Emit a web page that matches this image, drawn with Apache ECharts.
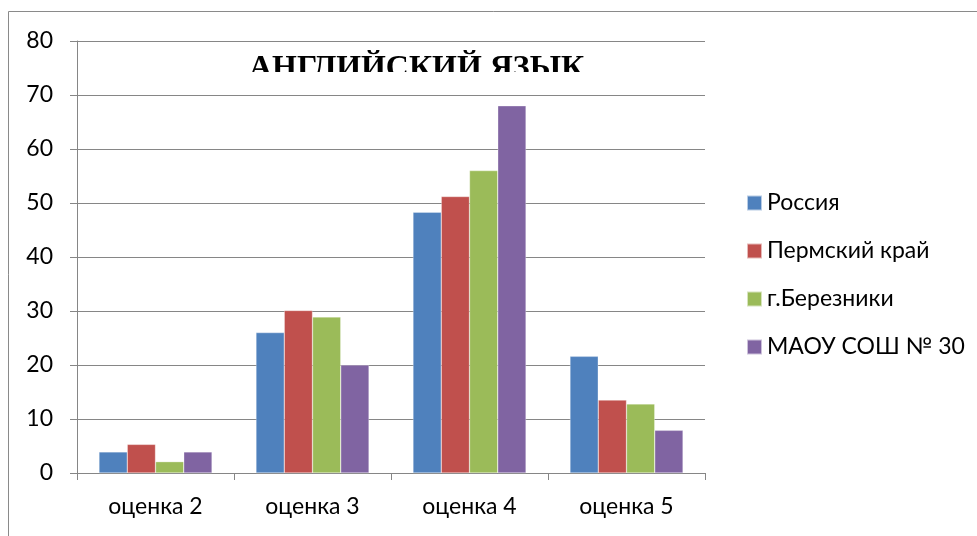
<!DOCTYPE html>
<html>
<head>
<meta charset="utf-8">
<script src="https://cdn.jsdelivr.net/npm/echarts@6/dist/echarts.min.js"></script>
<style>
html, body { margin: 0; padding: 0; background: #fff; }
#chart { width: 977px; height: 536px; }
</style>
</head>
<body>
<div id="chart"></div>
<script>
var categories = ['оценка 2', 'оценка 3', 'оценка 4', 'оценка 5'];
var seriesNames = ['Россия', 'Пермский край', 'г.Березники', 'МАОУ СОШ № 30'];
var russia = [3.9, 26, 48.3, 21.6];
var perm = [5.3, 30.1, 51.2, 13.5];
var berezniki = [2.1, 28.9, 56, 12.8];
var school = [3.9, 20, 68, 7.9];
var colors = ['#4F81BD', '#C0504D', '#9BBB59', '#8064A2'];

var myChart = echarts.init(document.getElementById('chart'));
var font = 'Lato, "Noto Sans", sans-serif';

function bar(name, data) {
    return {
        name: name,
        type: 'bar',
        barGap: 0,
        barCategoryGap: '28%',
        itemStyle: {borderColor: 'rgba(255,255,255,0.6)', borderWidth: 0.5},
        data: data
    };
}

option = {
    color: colors,
    animation: false,
    graphic: [
        {
            type: 'rect',
            shape: {x: 8.5, y: 11.5, width: 1200, height: 800},
            style: {fill: 'none', stroke: '#8a8a8a', lineWidth: 1},
            z: 0
        },
        {
            type: 'text',
            left: 249,
            top: 53,
            scaleX: 1.03,
            style: {
                text: 'АНГЛИЙСКИЙ ЯЗЫК',
                font: 'bold 31px "Liberation Serif", "DejaVu Serif", serif',
                fill: '#000'
            },
            z: 10
        },
        {
            // нижняя часть заголовка обрезана, как на исходнике
            type: 'rect',
            shape: {x: 240, y: 72, width: 360, height: 20},
            style: {fill: '#fff'},
            z: 20
        }
    ],
    legend: {
        data: seriesNames,
        orient: 'vertical',
        left: 746,
        top: 191,
        padding: 0,
        itemWidth: 15,
        itemHeight: 15,
        itemGap: 24,
        icon: 'rect',
        textStyle: {
            fontFamily: font,
            fontSize: 23,
            color: '#000',
            lineHeight: 24
        }
    },
    grid: {
        left: 77,
        right: 272,
        top: 41,
        bottom: 63
    },
    xAxis: [
        {
            type: 'category',
            data: categories,
            axisLine: {lineStyle: {color: '#868686', width: 1}},
            axisTick: {show: true, length: 7, lineStyle: {color: '#868686'}},
            axisLabel: {
                fontFamily: font,
                fontSize: 23,
                color: '#000',
                margin: 22
            }
        }
    ],
    yAxis: [
        {
            type: 'value',
            min: 0,
            max: 80,
            interval: 10,
            axisLine: {show: true, lineStyle: {color: '#868686', width: 1}},
            axisTick: {show: true, length: 7, lineStyle: {color: '#868686'}},
            splitLine: {lineStyle: {color: '#868686', width: 1}},
            axisLabel: {
                fontFamily: font,
                fontSize: 23,
                color: '#000',
                margin: 24
            }
        }
    ],
    series: [
        bar(seriesNames[0], russia),
        bar(seriesNames[1], perm),
        bar(seriesNames[2], berezniki),
        bar(seriesNames[3], school)
    ]
};
myChart.setOption(option);
</script>
</body>
</html>
